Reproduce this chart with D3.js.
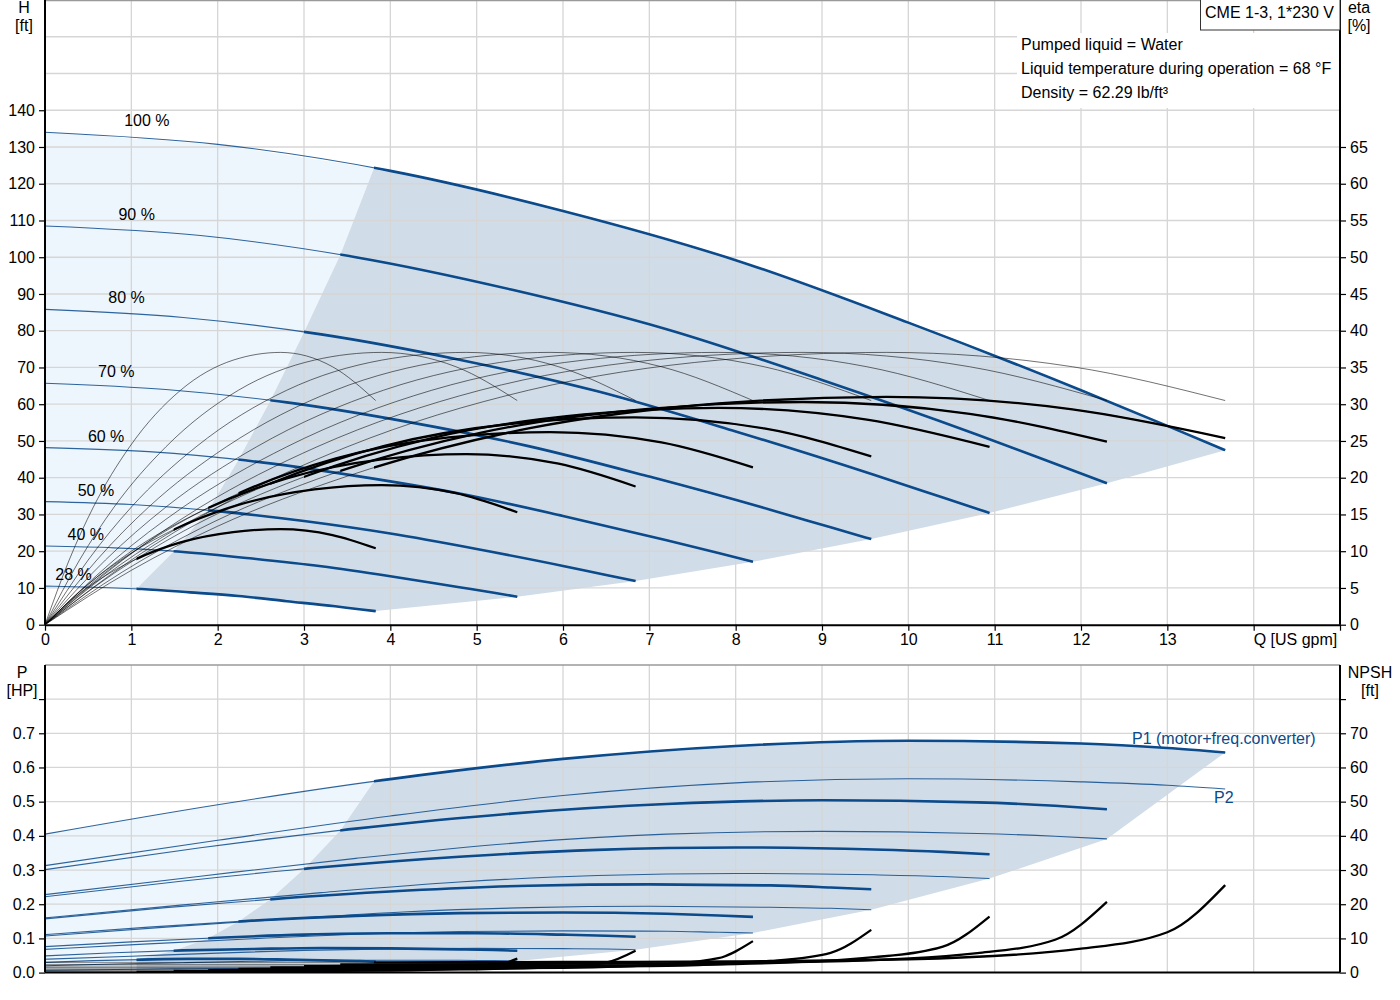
<!DOCTYPE html>
<html>
<head>
<meta charset="utf-8">
<script src="https://cdn.jsdelivr.net/npm/d3@7"></script>
<style>
  body { margin: 0; background: #fff; }
  text { font-family: "Liberation Sans", Arial, sans-serif; }
</style>
</head>
<body>
<script>
// ---- data (Q in US gpm, H in ft, eta in %, P in HP, NPSH in ft) ----
var speeds = [100, 90, 80, 70, 60, 50, 40, 28];
var speedLabels = ["100 %", "90 %", "80 %", "70 %", "60 %", "50 %", "40 %", "28 %"];
// flow where each curve turns into the allowed operating range
var minFlow = [3.81, 3.42, 3.0, 2.61, 2.24, 1.89, 1.49, 1.06];

// flow points for QH, power and NPSH curves
var flow100 = [0, 2, 4, 6, 8, 10, 12, 13, 13.67];
var flow90 = [0, 1.8, 3.6, 5.4, 7.2, 9.0, 10.8, 11.7, 12.3];
var flow80 = [0, 1.6, 3.2, 4.8, 6.4, 8.0, 9.6, 10.4, 10.94];
var flow70 = [0, 1.4, 2.8, 4.2, 5.6, 7.0, 8.4, 9.1, 9.57];
var flow60 = [0, 1.2, 2.4, 3.6, 4.8, 6.0, 7.2, 7.8, 8.2];
var flow50 = [0, 1, 2, 3, 4, 5, 6, 6.5, 6.84];
var flow40 = [0, 0.8, 1.6, 2.4, 3.2, 4.0, 4.8, 5.2, 5.47];
var flow28 = [0, 0.56, 1.12, 1.68, 2.24, 2.8, 3.36, 3.64, 3.83];

var head100 = [134.0, 130.7, 123.5, 112.6, 99.2, 82.2, 63.8, 54.1, 47.5];
var head90 = [108.5, 105.9, 100.0, 91.2, 80.4, 66.6, 51.7, 43.8, 38.5];
var head80 = [85.8, 83.6, 79.0, 72.1, 63.5, 52.6, 40.8, 34.6, 30.4];
var head70 = [65.7, 64.0, 60.5, 55.2, 48.6, 40.3, 31.3, 26.5, 23.3];
var head60 = [48.2, 47.1, 44.5, 40.5, 35.7, 29.6, 23.0, 19.5, 17.1];
var head50 = [33.5, 32.7, 30.9, 28.2, 24.8, 20.6, 16.0, 13.5, 11.9];
var head40 = [21.4, 20.9, 19.8, 18.0, 15.9, 13.2, 10.2, 8.7, 7.6];
var head28 = [10.5, 10.2, 9.7, 8.8, 7.8, 6.4, 5.0, 4.2, 3.7];

// power P1 (motor + frequency converter)
var p1_100 = [0.405, 0.491, 0.566, 0.625, 0.663, 0.678, 0.670, 0.657, 0.644];
var p1_90 = [0.301, 0.365, 0.421, 0.465, 0.493, 0.504, 0.498, 0.488, 0.478];
var p1_80 = [0.222, 0.268, 0.308, 0.339, 0.359, 0.366, 0.360, 0.353, 0.346];
var p1_70 = [0.157, 0.190, 0.218, 0.240, 0.254, 0.258, 0.255, 0.249, 0.244];
var p1_60 = [0.111, 0.133, 0.152, 0.166, 0.174, 0.176, 0.172, 0.167, 0.163];
var p1_50 = [0.076, 0.090, 0.102, 0.111, 0.115, 0.115, 0.111, 0.108, 0.105];
var p1_40 = [0.049, 0.058, 0.065, 0.069, 0.072, 0.071, 0.068, 0.066, 0.064];
var p1_28 = [0.030, 0.035, 0.038, 0.040, 0.040, 0.038, 0.035, 0.034, 0.032];

// power P2 (shaft)
var p2_100 = [0.313, 0.387, 0.458, 0.518, 0.555, 0.567, 0.558, 0.548, 0.537];
var p2_90 = [0.228, 0.282, 0.334, 0.378, 0.405, 0.413, 0.407, 0.399, 0.391];
var p2_80 = [0.160, 0.198, 0.234, 0.265, 0.284, 0.290, 0.286, 0.281, 0.275];
var p2_70 = [0.107, 0.133, 0.157, 0.178, 0.190, 0.194, 0.191, 0.188, 0.184];
var p2_60 = [0.068, 0.084, 0.099, 0.112, 0.120, 0.122, 0.121, 0.118, 0.116];
var p2_50 = [0.039, 0.048, 0.057, 0.065, 0.069, 0.071, 0.070, 0.069, 0.067];
var p2_40 = [0.020, 0.025, 0.029, 0.033, 0.036, 0.036, 0.036, 0.035, 0.034];
var p2_28 = [0.007, 0.0085, 0.010, 0.0114, 0.0122, 0.0125, 0.0123, 0.0121, 0.0118];

// NPSH
var npsh100 = [3.0, 3.0, 3.0, 3.1, 3.3, 3.9, 7.0, 11.8, 25.6];
var npsh90 = [2.4, 2.4, 2.4, 2.5, 2.7, 3.2, 5.7, 9.6, 20.7];
var npsh80 = [1.9, 1.9, 1.9, 2.0, 2.1, 2.5, 4.5, 7.6, 16.4];
var npsh70 = [1.5, 1.5, 1.5, 1.5, 1.6, 1.9, 3.4, 5.8, 12.5];
var npsh60 = [1.1, 1.1, 1.1, 1.1, 1.2, 1.4, 2.5, 4.2, 9.2];
var npsh50 = [0.75, 0.75, 0.75, 0.78, 0.83, 0.98, 1.75, 2.95, 6.4];
var npsh40 = [0.48, 0.48, 0.48, 0.5, 0.53, 0.62, 1.12, 1.9, 4.1];
var npsh28 = [0.24, 0.24, 0.24, 0.24, 0.26, 0.31, 0.55, 0.93, 2.0];

// flow points for the efficiency curves
var etaFlow100 = [0, 1, 2, 3.5, 5.6, 7.8, 9.75, 11.9, 13.67];
var etaFlow90 = [0, 0.9, 1.8, 3.15, 5.04, 7.02, 8.78, 10.71, 12.3];
var etaFlow80 = [0, 0.8, 1.6, 2.8, 4.48, 6.24, 7.8, 9.52, 10.94];
var etaFlow70 = [0, 0.7, 1.4, 2.45, 3.92, 5.46, 6.83, 8.33, 9.57];
var etaFlow60 = [0, 0.6, 1.2, 2.1, 3.36, 4.68, 5.85, 7.14, 8.2];
var etaFlow50 = [0, 0.5, 1.0, 1.75, 2.8, 3.9, 4.88, 5.95, 6.84];
var etaFlow40 = [0, 0.4, 0.8, 1.4, 2.24, 3.12, 3.9, 4.76, 5.47];
var etaFlow28 = [0, 0.28, 0.56, 0.98, 1.57, 2.18, 2.73, 3.33, 3.83];

// pump efficiency (same values at every speed)
var etaPump = [0, 8.8, 16.0, 24.2, 31.9, 36.0, 37.05, 35.1, 30.5];

// total efficiency
var etaTot100 = [0, 7.4, 13.4, 20.2, 26.7, 30.1, 31.0, 29.3, 25.4];
var etaTot90 = [0, 7.2, 13.1, 19.8, 26.1, 29.4, 30.3, 28.7, 24.9];
var etaTot80 = [0, 7.0, 12.7, 19.2, 25.4, 28.6, 29.5, 27.9, 24.2];
var etaTot70 = [0, 6.7, 12.2, 18.4, 24.3, 27.4, 28.2, 26.7, 22.9];
var etaTot60 = [0, 6.2, 11.3, 17.1, 22.6, 25.5, 26.2, 24.8, 21.4];
var etaTot50 = [0, 5.5, 10.0, 15.1, 19.9, 22.5, 23.2, 21.9, 18.8];
var etaTot40 = [0, 4.5, 8.2, 12.4, 16.3, 18.4, 19.0, 17.9, 15.3];
var etaTot28 = [0, 3.1, 5.6, 8.5, 11.2, 12.6, 13.0, 12.2, 10.4];

var hTicks = [0, 10, 20, 30, 40, 50, 60, 70, 80, 90, 100, 110, 120, 130, 140];
var etaTicks = [0, 5, 10, 15, 20, 25, 30, 35, 40, 45, 50, 55, 60, 65];
var pTicks = [0, 0.1, 0.2, 0.3, 0.4, 0.5, 0.6, 0.7, 0.8];
var npshTicks = [0, 10, 20, 30, 40, 50, 60, 70, 80];
var qTicks = [0, 1, 2, 3, 4, 5, 6, 7, 8, 9, 10, 11, 12, 13, 14, 15];

var infoLines = ["Pumped liquid = Water", "Liquid temperature during operation = 68 \u00b0F", "Density = 62.29 lb/ft\u00b3"];
var titleText = "CME 1-3, 1*230 V";

// ---- grouping ----
var flows = [flow100, flow90, flow80, flow70, flow60, flow50, flow40, flow28];
var heads = [head100, head90, head80, head70, head60, head50, head40, head28];
var p1s = [p1_100, p1_90, p1_80, p1_70, p1_60, p1_50, p1_40, p1_28];
var p2s = [p2_100, p2_90, p2_80, p2_70, p2_60, p2_50, p2_40, p2_28];
var npshs = [npsh100, npsh90, npsh80, npsh70, npsh60, npsh50, npsh40, npsh28];
var etaFlows = [etaFlow100, etaFlow90, etaFlow80, etaFlow70, etaFlow60, etaFlow50, etaFlow40, etaFlow28];
var etaTots = [etaTot100, etaTot90, etaTot80, etaTot70, etaTot60, etaTot50, etaTot40, etaTot28];

function pairs(xs, ys) { return xs.map(function(v, i) { return [v, ys[i]]; }); }
function valueAt(xs, ys, q) {
  for (var i = 1; i < xs.length; i++) {
    if (q <= xs[i]) {
      var t = (q - xs[i - 1]) / (xs[i] - xs[i - 1]);
      return ys[i - 1] + t * (ys[i] - ys[i - 1]);
    }
  }
  return ys[ys.length - 1];
}
// part of a curve between two flows, as data pairs
function segment(xs, ys, a, b) {
  var out = [[a, valueAt(xs, ys, a)]];
  xs.forEach(function(v, i) { if (v > a && v < b) out.push([v, ys[i]]); });
  out.push([b, valueAt(xs, ys, b)]);
  return out;
}
function lastOf(arr) { return arr[arr.length - 1]; }

// ---- layout ----
var W = 1400, H = 1000;
var blue = "#0b4a8b";
var lightFill = "#eef6fd";
var darkFill = "#d0dce8";
var gridCol = "#d6d6d6";
var fs = "16px";

var svg = d3.select("body").append("svg").attr("width", W).attr("height", H);
var defs = svg.append("defs");

var x = d3.scaleLinear().domain([0, 15]).range([45, 1340]);
var yH = d3.scaleLinear().domain([0, 170]).range([624.7, 0]);
var yEta = d3.scaleLinear().domain([0, 85]).range([624.7, 0]);
var yP = d3.scaleLinear().domain([0, 0.9]).range([972.6, 664.9]);
var yN = d3.scaleLinear().domain([0, 90]).range([972.6, 664.9]);

var n = speeds.length;
var lastIdx = n - 1;
var k;

// clip paths: thick parts start at minimum flow
speeds.forEach(function(s, i) {
  defs.append("clipPath").attr("id", "run" + i)
    .append("rect").attr("x", x(minFlow[i])).attr("y", 0).attr("width", W).attr("height", H);
});

function polyPath(points, yScale) {
  return d3.line().x(function(d) { return x(d[0]); }).y(function(d) { return yScale(d[1]); })(points) + "Z";
}
function styleAxis(g) {
  g.selectAll(".domain").attr("stroke", "#000").attr("stroke-width", 2);
  g.selectAll(".tick line").attr("stroke", "#000").attr("stroke-width", 1.2);
  g.selectAll(".tick text").attr("font-size", fs).attr("fill", "#000")
    .attr("font-family", "Liberation Sans, Arial, sans-serif");
}

// ================= UPPER PANEL =================
var upper = svg.append("g");

// light area left of minimum flow
var lightTop = segment(flow28, head28, 0, minFlow[lastIdx]);
for (k = lastIdx - 1; k >= 0; k--) lightTop.push([minFlow[k], valueAt(flows[k], heads[k], minFlow[k])]);
lightTop = lightTop.concat(segment(flow100, head100, 0, minFlow[0]).reverse());
upper.append("path").attr("d", polyPath(lightTop, yH)).attr("fill", lightFill);

// operating range
var darkTop = segment(flow100, head100, minFlow[0], lastOf(flow100));
for (k = 1; k < n; k++) darkTop.push([lastOf(flows[k]), lastOf(heads[k])]);
darkTop = darkTop.concat(segment(flow28, head28, minFlow[lastIdx], lastOf(flow28)).reverse());
for (k = lastIdx; k >= 0; k--) darkTop.push([minFlow[k], valueAt(flows[k], heads[k], minFlow[k])]);
upper.append("path").attr("d", polyPath(darkTop, yH)).attr("fill", darkFill);

// grid
upper.selectAll(".hg").data(d3.range(10, 161, 10)).enter().append("line")
  .attr("x1", x(0)).attr("x2", x(15)).attr("y1", function(d) { return yH(d); }).attr("y2", function(d) { return yH(d); })
  .attr("stroke", gridCol).attr("stroke-width", 1.3);
upper.selectAll(".vg").data(d3.range(1, 15)).enter().append("line")
  .attr("y1", yH(0)).attr("y2", yH(170)).attr("x1", function(d) { return x(d); }).attr("x2", function(d) { return x(d); })
  .attr("stroke", gridCol).attr("stroke-width", 1.3);

// info block
upper.append("rect").attr("x", 1017).attr("y", 33).attr("width", 323).attr("height", 75).attr("fill", "#fff");
upper.selectAll(".info").data(infoLines).enter().append("text")
  .attr("x", 1021).attr("y", function(d, j) { return 50 + j * 24; })
  .attr("font-size", fs).attr("fill", "#000").text(function(d) { return d; });

// QH curves
var hLine = d3.line().curve(d3.curveMonotoneX).x(function(p) { return x(p[0]); }).y(function(p) { return yH(p[1]); });
speeds.forEach(function(s, i) {
  var d = hLine(pairs(flows[i], heads[i]));
  upper.append("path").attr("d", d).attr("fill", "none").attr("stroke", blue).attr("stroke-width", 1.1).attr("opacity", 0.85);
  upper.append("path").attr("d", d).attr("fill", "none").attr("stroke", blue).attr("stroke-width", 2.6)
    .attr("clip-path", "url(#run" + i + ")");
});

// efficiency curves
var etaLine = d3.line().curve(d3.curveMonotoneX).x(function(p) { return x(p[0]); }).y(function(p) { return yEta(p[1]); });
speeds.forEach(function(s, i) {
  upper.append("path").attr("d", etaLine(pairs(etaFlows[i], etaPump)))
    .attr("fill", "none").attr("stroke", "#000").attr("stroke-width", 0.7).attr("opacity", 0.8);
});
speeds.forEach(function(s, i) {
  var d = etaLine(pairs(etaFlows[i], etaTots[i]));
  upper.append("path").attr("d", d).attr("fill", "none").attr("stroke", "#000").attr("stroke-width", 0.7).attr("opacity", 0.8);
  upper.append("path").attr("d", d).attr("fill", "none").attr("stroke", "#000").attr("stroke-width", 2.3)
    .attr("clip-path", "url(#run" + i + ")");
});

// speed labels
speeds.forEach(function(s, i) {
  upper.append("text").attr("x", x(1.18 * s / 100)).attr("y", yH(heads[i][0]) - 6)
    .attr("text-anchor", "middle").attr("font-size", fs).text(speedLabels[i]);
});

// frame and axes
upper.append("line").attr("x1", x(0)).attr("x2", x(15)).attr("y1", 0.5).attr("y2", 0.5).attr("stroke", "#9a9a9a").attr("stroke-width", 1.5);

upper.append("g").attr("transform", "translate(" + x(0) + ",0)")
  .call(d3.axisLeft(yH).tickValues(hTicks).tickSize(6).tickSizeOuter(0).tickPadding(4))
  .call(styleAxis)
  .call(function(g) { g.select(".domain").attr("d", "M0," + yH(0) + "V" + yH(170)); });

upper.append("g").attr("transform", "translate(" + x(15) + ",0)")
  .call(d3.axisRight(yEta).tickValues(etaTicks).tickSize(6).tickSizeOuter(0).tickPadding(4))
  .call(styleAxis)
  .call(function(g) { g.select(".domain").attr("d", "M0," + yEta(0) + "V" + yEta(85)); });

upper.append("g").attr("transform", "translate(0," + yH(0) + ")")
  .call(d3.axisBottom(x).tickValues(qTicks).tickSize(6).tickSizeOuter(0).tickPadding(3)
    .tickFormat(function(d) { return d <= 13 ? d : ""; }))
  .call(styleAxis);
upper.append("text").attr("x", x(14)).attr("y", 645).attr("font-size", fs).text("Q [US gpm]");

upper.append("text").attr("x", 24).attr("y", 13).attr("text-anchor", "middle").attr("font-size", fs).text("H");
upper.append("text").attr("x", 24).attr("y", 31).attr("text-anchor", "middle").attr("font-size", fs).text("[ft]");
upper.append("text").attr("x", 1359).attr("y", 13).attr("text-anchor", "middle").attr("font-size", fs).text("eta");
upper.append("text").attr("x", 1359).attr("y", 31).attr("text-anchor", "middle").attr("font-size", fs).text("[%]");

// title box
upper.append("rect").attr("x", 1200.5).attr("y", -1).attr("width", 139.5).attr("height", 31)
  .attr("fill", "#fff").attr("stroke", "#333").attr("stroke-width", 1);
upper.append("text").attr("x", 1205).attr("y", 18).attr("font-size", fs).text(titleText);

// ================= LOWER PANEL =================
var lower = svg.append("g");

var lightBot = segment(flow28, p2_28, 0, minFlow[lastIdx]);
for (k = lastIdx; k >= 0; k--) lightBot.push([minFlow[k], valueAt(flows[k], p1s[k], minFlow[k])]);
lightBot = lightBot.concat(segment(flow100, p1_100, 0, minFlow[0]).reverse());
lower.append("path").attr("d", polyPath(lightBot, yP)).attr("fill", lightFill);

var darkBot = segment(flow100, p1_100, minFlow[0], lastOf(flow100));
for (k = 1; k < n; k++) darkBot.push([lastOf(flows[k]), lastOf(p2s[k])]);
darkBot = darkBot.concat(segment(flow28, p2_28, minFlow[lastIdx], lastOf(flow28)).reverse());
for (k = lastIdx; k >= 0; k--) darkBot.push([minFlow[k], valueAt(flows[k], p1s[k], minFlow[k])]);
lower.append("path").attr("d", polyPath(darkBot, yP)).attr("fill", darkFill);

lower.selectAll(".hg").data(d3.range(1, 9)).enter().append("line")
  .attr("x1", x(0)).attr("x2", x(15)).attr("y1", function(d) { return yP(d / 10); }).attr("y2", function(d) { return yP(d / 10); })
  .attr("stroke", gridCol).attr("stroke-width", 1.3);
lower.selectAll(".vg").data(d3.range(1, 15)).enter().append("line")
  .attr("y1", yP(0)).attr("y2", yP(0.9)).attr("x1", function(d) { return x(d); }).attr("x2", function(d) { return x(d); })
  .attr("stroke", gridCol).attr("stroke-width", 1.3);

var pLine = d3.line().curve(d3.curveMonotoneX).x(function(p) { return x(p[0]); }).y(function(p) { return yP(p[1]); });
speeds.forEach(function(s, i) {
  lower.append("path").attr("d", pLine(pairs(flows[i], p2s[i]))).attr("fill", "none")
    .attr("stroke", blue).attr("stroke-width", 1.1).attr("opacity", 0.85);
  var d = pLine(pairs(flows[i], p1s[i]));
  lower.append("path").attr("d", d).attr("fill", "none").attr("stroke", blue).attr("stroke-width", 1.1).attr("opacity", 0.85);
  lower.append("path").attr("d", d).attr("fill", "none").attr("stroke", blue).attr("stroke-width", 2.6)
    .attr("clip-path", "url(#run" + i + ")");
});

var nLine = d3.line().curve(d3.curveMonotoneX).x(function(p) { return x(p[0]); }).y(function(p) { return yN(p[1]); });
speeds.forEach(function(s, i) {
  var d = nLine(pairs(flows[i], npshs[i]));
  lower.append("path").attr("d", d).attr("fill", "none").attr("stroke", "#000").attr("stroke-width", 0.8).attr("opacity", 0.6);
  lower.append("path").attr("d", d).attr("fill", "none").attr("stroke", "#000").attr("stroke-width", 2.3)
    .attr("clip-path", "url(#run" + i + ")");
});

lower.append("text").attr("x", 1132).attr("y", 744).attr("font-size", fs).attr("fill", blue).text("P1 (motor+freq.converter)");
lower.append("text").attr("x", 1214).attr("y", 803).attr("font-size", fs).attr("fill", blue).text("P2");

lower.append("line").attr("x1", x(0)).attr("x2", x(15)).attr("y1", yP(0.9)).attr("y2", yP(0.9)).attr("stroke", "#9a9a9a").attr("stroke-width", 1.5);
lower.append("line").attr("x1", x(0)).attr("x2", x(15)).attr("y1", yP(0)).attr("y2", yP(0)).attr("stroke", "#000").attr("stroke-width", 2);

lower.append("g").attr("transform", "translate(" + x(0) + ",0)")
  .call(d3.axisLeft(yP).tickValues(pTicks).tickSize(6).tickSizeOuter(0).tickPadding(4)
    .tickFormat(function(d) { return d < 0.75 ? d3.format(".1f")(d) : ""; }))
  .call(styleAxis)
  .call(function(g) { g.select(".domain").attr("d", "M0," + yP(0) + "V" + yP(0.9)); });

lower.append("g").attr("transform", "translate(" + x(15) + ",0)")
  .call(d3.axisRight(yN).tickValues(npshTicks).tickSize(6).tickSizeOuter(0).tickPadding(4)
    .tickFormat(function(d) { return d < 75 ? d : ""; }))
  .call(styleAxis)
  .call(function(g) { g.select(".domain").attr("d", "M0," + yN(0) + "V" + yN(90)); });

lower.append("text").attr("x", 22).attr("y", 678).attr("text-anchor", "middle").attr("font-size", fs).text("P");
lower.append("text").attr("x", 22).attr("y", 696).attr("text-anchor", "middle").attr("font-size", fs).text("[HP]");
lower.append("text").attr("x", 1370).attr("y", 678).attr("text-anchor", "middle").attr("font-size", fs).text("NPSH");
lower.append("text").attr("x", 1370).attr("y", 696).attr("text-anchor", "middle").attr("font-size", fs).text("[ft]");
</script>
</body>
</html>
